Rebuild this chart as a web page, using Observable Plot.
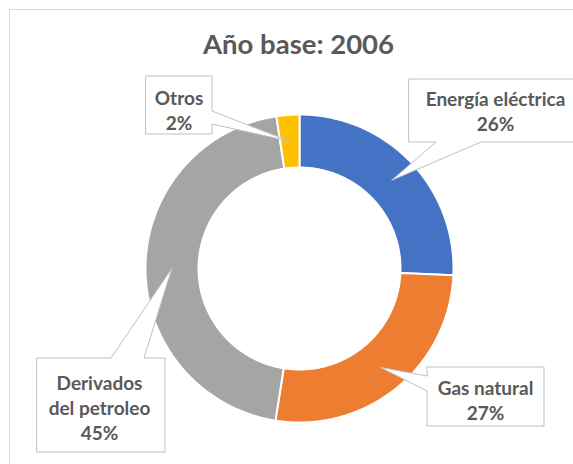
<!DOCTYPE html>
<html><head><meta charset="utf-8">
<script src="https://cdn.jsdelivr.net/npm/d3@7"></script>
<script src="https://cdn.jsdelivr.net/npm/@observablehq/plot@0.6"></script>
<style>body{margin:0;background:#fff;} #chart svg{display:block;}</style>
</head><body><div id="chart"></div>
<script>
// ---- data ----
const title = "Año base: 2006";
const categories = ["Energía eléctrica", "Gas natural", "Derivados del petroleo", "Otros"];
const labelText = ["Energía eléctrica", "Gas natural", "Derivados\ndel petroleo", "Otros"];
const values = [25.7, 26.8, 45.1, 2.4];
const colors = ["#4472C4", "#ED7D31", "#A5A5A5", "#FFC000"];

// ---- layout ----
const W = 573, H = 464;
const cx = 299, cy = 268, rOuter = 154, rInner = 101;
const callouts = [
  {box: [408, 78, 573, 141], side: "bottom", base: [435, 480], text: [495, 110]},
  {box: [426, 366, 543, 425], side: "left", base: [375, 390], text: [485, 398.5]},
  {box: [36, 357, 164, 451], side: "top", base: [110, 143], text: [99, 406.5]},
  {box: [145, 75, 211, 133], side: "right", base: [110, 123], text: [178.5, 108.5]}
];

const total = d3.sum(values);
const arcs = d3.pie().sort(null).value(d => d)(values);
const pt = (a, r) => ({x: cx + r * Math.sin(a), y: cy - r * Math.cos(a)});

// slice polygons
const slicePts = [];
arcs.forEach((a, i) => {
  const n = Math.max(2, Math.ceil((a.endAngle - a.startAngle) / (Math.PI / 360)));
  for (let k = 0; k <= n; k++) {
    const t = a.startAngle + (a.endAngle - a.startAngle) * k / n;
    slicePts.push({name: categories[i], ...pt(t, rOuter)});
  }
  for (let k = n; k >= 0; k--) {
    const t = a.startAngle + (a.endAngle - a.startAngle) * k / n;
    slicePts.push({name: categories[i], ...pt(t, rInner)});
  }
});

// callouts (box + pointer to slice centroid)
const calloutPts = [];
const labels = [];
arcs.forEach((a, i) => {
  const c = callouts[i];
  const mid = (a.startAngle + a.endAngle) / 2;
  const tip = pt(mid, (rOuter + rInner) / 2);
  const [x1, y1, x2, y2] = c.box.map(v => v + 0.5);
  const [b0, b1] = c.base.map(v => v + 0.5);
  const p = [];
  p.push({x: x1, y: y1});
  if (c.side === "top") p.push({x: b0, y: y1}, tip, {x: b1, y: y1});
  p.push({x: x2, y: y1});
  if (c.side === "right") p.push({x: x2, y: b0}, tip, {x: x2, y: b1});
  p.push({x: x2, y: y2});
  if (c.side === "bottom") p.push({x: b1, y: y2}, tip, {x: b0, y: y2});
  p.push({x: x1, y: y2});
  if (c.side === "left") p.push({x: x1, y: b1}, tip, {x: x1, y: b0});
  p.forEach(q => calloutPts.push({name: categories[i], x: q.x, y: q.y}));
  labels.push({x: c.text[0], y: c.text[1], text: labelText[i] + "\n" + Math.round(values[i] / total * 100) + "%"});
});

const chart = Plot.plot({
  width: W, height: H,
  margin: 0,
  x: {domain: [0, W], range: [0, W], axis: null},
  y: {domain: [0, H], range: [0, H], axis: null},
  color: {domain: categories, range: colors},
  style: {fontFamily: "Lato, 'Open Sans', sans-serif", background: "#fff"},
  marks: [
    Plot.rect([{a: 0}], {x1: () => 9.5, y1: () => 9.5, x2: () => W + 20, y2: () => H + 20, fill: "none", stroke: "#D9D9D9", strokeWidth: 1}),
    Plot.line(slicePts, {x: "x", y: "y", z: "name", fill: "name", stroke: "white", strokeWidth: 2, curve: "linear-closed"}),
    Plot.line(calloutPts, {x: "x", y: "y", z: "name", fill: "white", stroke: "#BFBFBF", strokeWidth: 1, curve: "linear-closed"}),
    Plot.text(labels, {x: "x", y: "y", text: "text", fontSize: 19, fontWeight: "bold", fill: "#595959", lineHeight: 1.32}),
    Plot.text([title], {x: () => 298, y: () => 44.5, text: d => d, fontSize: 27.5, fontWeight: "bold", fill: "#595959"})
  ]
});
document.getElementById("chart").appendChild(chart);
</script>
</body></html>
